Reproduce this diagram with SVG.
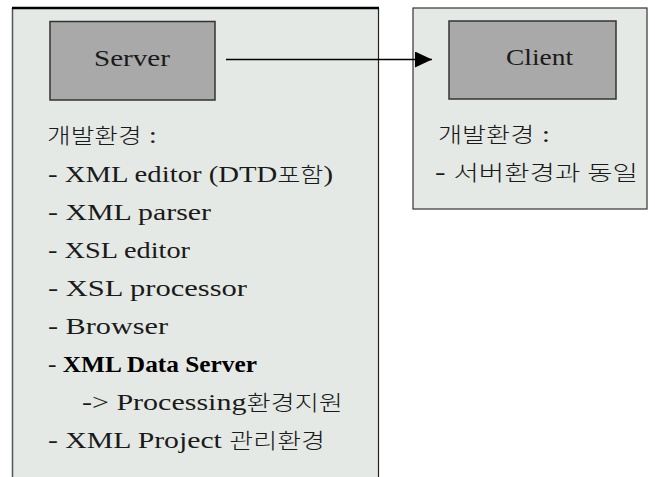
<svg xmlns="http://www.w3.org/2000/svg" width="655" height="477" viewBox="0 0 655 477">
  <defs>
    <style>
      .panel { fill: #e5e9e5; }
      .inner { fill: #a9a9a9; stroke: #333333; stroke-width: 1.5; }
      .t { font-family: "Liberation Serif", "Noto Sans CJK KR", serif; font-size: 24px; fill: #1a1a1a; }
      .k { font-size: 21px; font-weight: 300; }
      .b { font-weight: bold; fill: #000000; }
      .conn { stroke: #000000; stroke-width: 1.3; fill: none; }
    </style>
    <marker id="arrow" markerWidth="18" markerHeight="16" refX="17" refY="8" orient="auto" markerUnits="userSpaceOnUse">
      <path d="M0,0 L17,8 L0,16 Z" fill="#000000"/>
    </marker>
  </defs>
  <rect x="0" y="0" width="655" height="477" fill="#ffffff"/>

  <g id="server">
    <rect class="panel" x="12" y="8" width="367" height="475"/>
    <line x1="12.5" y1="8" x2="12.5" y2="477" stroke="#555555" stroke-width="1.5"/>
    <line x1="378.5" y1="8" x2="378.5" y2="477" stroke="#222222" stroke-width="1.2"/>
    <line x1="12" y1="8" x2="379" y2="8" stroke="#000000" stroke-width="2.5"/>
    <rect class="inner" x="50" y="21.5" width="165" height="78.5"/>
    <text class="t" x="132" y="66" text-anchor="middle" textLength="76" lengthAdjust="spacingAndGlyphs">Server</text>
    <text class="t" x="47" y="143" textLength="110" lengthAdjust="spacingAndGlyphs"><tspan class="k">개발환경</tspan> :</text>
    <text class="t" x="48" y="182" textLength="285" lengthAdjust="spacingAndGlyphs">- XML editor (DTD<tspan class="k">포함</tspan>)</text>
    <text class="t" x="48" y="220" textLength="163" lengthAdjust="spacingAndGlyphs">- XML parser</text>
    <text class="t" x="48" y="258" textLength="142" lengthAdjust="spacingAndGlyphs">- XSL editor</text>
    <text class="t" x="48" y="296" textLength="199" lengthAdjust="spacingAndGlyphs">- XSL processor</text>
    <text class="t" x="48" y="334" textLength="120" lengthAdjust="spacingAndGlyphs">- Browser</text>
    <text class="t" x="48" y="372" textLength="209" lengthAdjust="spacingAndGlyphs">- <tspan class="b">XML Data Server</tspan></text>
    <text class="t" x="82" y="410" textLength="261" lengthAdjust="spacingAndGlyphs">-&gt; Processing<tspan class="k">환경지원</tspan></text>
    <text class="t" x="48" y="448" textLength="277" lengthAdjust="spacingAndGlyphs">- XML Project <tspan class="k">관리환경</tspan></text>
  </g>

  <g id="client">
    <rect class="panel" x="413" y="8" width="234" height="201" stroke="#333333" stroke-width="1.2"/>
    <rect class="inner" x="449" y="21" width="167" height="78"/>
    <text class="t" x="539.5" y="65" text-anchor="middle" textLength="67" lengthAdjust="spacingAndGlyphs">Client</text>
    <text class="t" x="438" y="142" textLength="112" lengthAdjust="spacingAndGlyphs"><tspan class="k">개발환경</tspan> :</text>
    <text class="t" x="435" y="180" textLength="203" lengthAdjust="spacingAndGlyphs">- <tspan class="k">서버환경과 동일</tspan></text>
  </g>

  <g id="connectors">
    <line class="conn" x1="226" y1="59.5" x2="432" y2="59.5" marker-end="url(#arrow)"/>
  </g>
</svg>
